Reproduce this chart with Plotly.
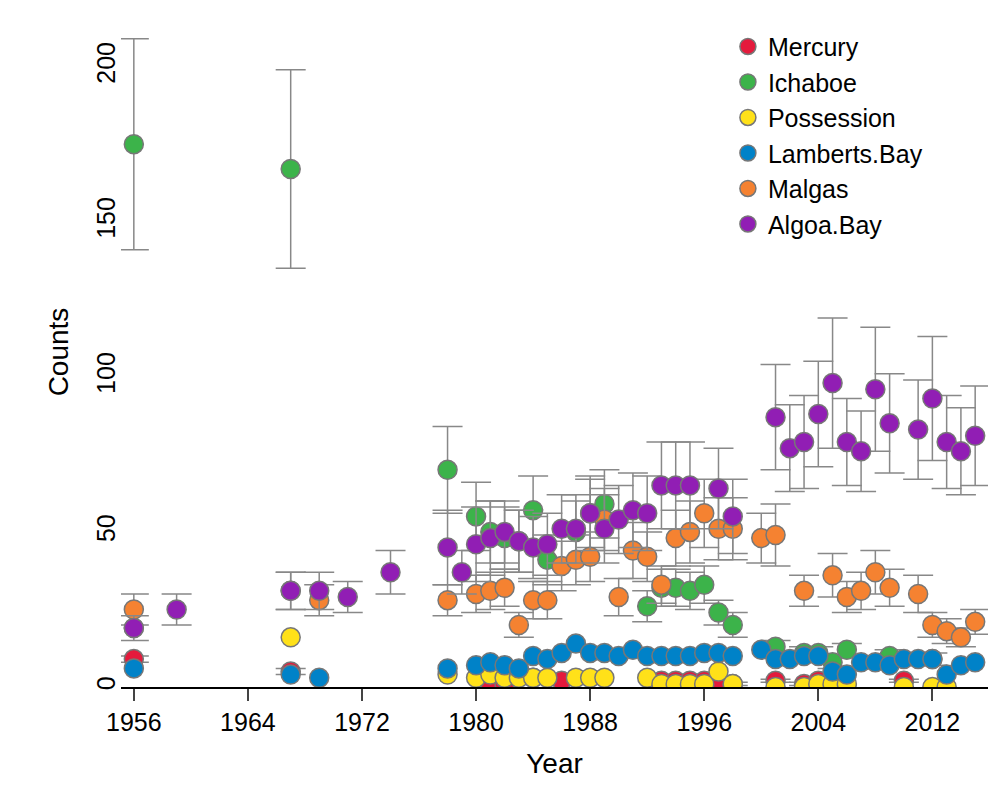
import plotly.graph_objects as go

# Mercury
mer_yr = [1956, 1967, 1981, 1982, 1984, 1986, 1993, 1994, 1995, 1996, 1997, 1998, 2001, 2003, 2004, 2010]
mer_ct = [9, 5, 1, 1, 3, 2, 2, 2, 2, 2, 2, 1, 2, 1, 2, 2]
mer_er = [1, 1, 0.5, 0.5, 0.5, 0.5, 0.5, 0.5, 0.5, 0.5, 0.5, 0.5, 0.5, 0.5, 0.5, 0.5]

# Ichaboe
ich_yr = [1956, 1967, 1978, 1980, 1981, 1982, 1983, 1984, 1985, 1987, 1988, 1989, 1992, 1993, 1994, 1995,
          1996, 1997, 1998, 2001, 2003, 2004, 2005, 2006, 2009, 2012]
ich_ct = [175, 167, 70, 55, 50, 48, 47, 57, 41, 50, 56, 59, 26, 32, 32, 31, 33, 24, 20, 13, 11, 11, 8, 12, 10, 9]
ich_er = [34, 32, 14, 11, 10, 10, 10, 11, 8, 10, 11, 11, 5, 6, 6, 6, 6, 4, 4, 2, 2, 2, 2, 2, 2, 2]

# Possession
pos_yr = [1956, 1967, 1978, 1980, 1981, 1982, 1983, 1984, 1985, 1987, 1988, 1989, 1992, 1993, 1994, 1995,
          1996, 1997, 1998, 2001, 2003, 2004, 2005, 2006, 2010, 2012, 2013]
pos_ct = [19, 16, 4, 3, 4, 3, 3, 3, 3, 3, 3, 3, 3, 1, 1, 1, 1, 5, 1, 0, 0, 1, 1, 1, 0, 0, 0]

# Lamberts.Bay
lam_yr = [1956, 1967, 1969, 1978, 1980, 1981, 1982, 1983, 1984, 1985, 1986, 1987, 1988, 1989, 1990, 1991,
          1992, 1993, 1994, 1995, 1996, 1997, 1998, 2000, 2001, 2002, 2003, 2004, 2005, 2006, 2007, 2008,
          2009, 2010, 2011, 2012, 2013, 2014, 2015]
lam_ct = [6, 4, 3, 6, 7, 8, 7, 6, 10, 9, 11, 14, 11, 11, 10, 12, 10, 10, 10, 10, 11, 11, 10, 12, 9, 9,
          10, 10, 5, 4, 8, 8, 7, 9, 9, 9, 4, 7, 8]

# Malgas
mal_yr = [1956, 1967, 1969, 1978, 1980, 1981, 1982, 1983, 1984, 1985, 1986, 1987, 1988, 1989, 1990, 1991,
          1992, 1993, 1994, 1995, 1996, 1997, 1998, 2000, 2001, 2003, 2005, 2006, 2007, 2008, 2009, 2011,
          2012, 2013, 2014, 2015]
mal_ct = [25, 31, 28, 28, 30, 31, 32, 20, 28, 28, 39, 41, 42, 54, 29, 44, 42, 33, 48, 50, 56, 51, 51, 48,
          49, 31, 36, 29, 31, 37, 32, 30, 20, 18, 16, 21]
mal_er = [5, 6, 5, 5, 6, 6, 6, 4, 6, 6, 8, 8, 8, 10, 6, 9, 8, 6, 9, 10, 11, 10, 10, 8, 10, 5, 7, 5, 6, 7,
          6, 6, 4, 4, 3, 4]

# Algoa.Bay
alg_yr = [1956, 1959, 1967, 1969, 1971, 1974, 1978, 1979, 1980, 1981, 1982, 1983, 1984, 1985, 1986, 1987,
          1988, 1989, 1990, 1991, 1992, 1993, 1994, 1995, 1997, 1998, 2001, 2002, 2003, 2004, 2005, 2006,
          2007, 2008, 2009, 2011, 2012, 2013, 2014, 2015]
alg_ct = [19, 25, 31, 31, 29, 37, 45, 37, 46, 48, 50, 47, 45, 46, 51, 51, 56, 51, 54, 57, 56, 65, 65, 65,
          64, 55, 87, 77, 79, 88, 98, 79, 76, 96, 85, 83, 93, 79, 76, 81]
alg_er = [4, 5, 6, 6, 5, 7, 12, 7, 12, 12, 10, 10, 10, 10, 11, 11, 12, 11, 11, 12, 12, 14, 14, 14, 13, 12,
          17, 14, 15, 17, 21, 14, 13, 20, 16, 16, 20, 15, 14, 16]

series = [
    ("Mercury", mer_yr, mer_ct, mer_er, "#E41A3C"),
    ("Ichaboe", ich_yr, ich_ct, ich_er, "#3CB34A"),
    ("Possession", pos_yr, pos_ct, None, "#FFE119"),
    ("Lamberts.Bay", lam_yr, lam_ct, None, "#0082C8"),
    ("Malgas", mal_yr, mal_ct, mal_er, "#F58231"),
    ("Algoa.Bay", alg_yr, alg_ct, alg_er, "#911EB4"),
]

fig = go.Figure()
for name, yr, ct, er, col in series:
    fig.add_trace(go.Scatter(
        x=yr, y=ct, mode="markers", name=name,
        marker=dict(size=19, color=col, line=dict(color="#777777", width=1.5)),
        error_y=dict(type="data", array=er, visible=er is not None,
                     color="#888888", thickness=1.5, width=15),
    ))

fig.update_layout(
    width=1000, height=800, plot_bgcolor="white", paper_bgcolor="white",
    margin=dict(l=113, r=20, t=9, b=121),
    font=dict(family="Liberation Sans, Arial", size=25, color="black"),
    legend=dict(x=0.7, y=0.99, bgcolor="rgba(0,0,0,0)", font=dict(size=25),
                itemsizing="trace", tracegroupgap=0),
)
fig.update_xaxes(
    range=[1955.1, 2015.9], tickvals=[1956, 1964, 1972, 1980, 1988, 1996, 2004, 2012],
    showgrid=False, zeroline=False, showline=True, linecolor="black", linewidth=2,
    ticks="outside", ticklen=12, tickwidth=2,
    title=dict(text="Year", font=dict(size=28), standoff=18),
)
fig.update_yaxes(
    range=[0, 216], tickvals=[0, 50, 100, 150, 200], tickangle=-90,
    showgrid=False, zeroline=False, showline=False,
    ticks="", ticklen=12, tickwidth=2,
    title=dict(text="Counts", font=dict(size=28), standoff=15),
)
fig.write_html("out.html")
